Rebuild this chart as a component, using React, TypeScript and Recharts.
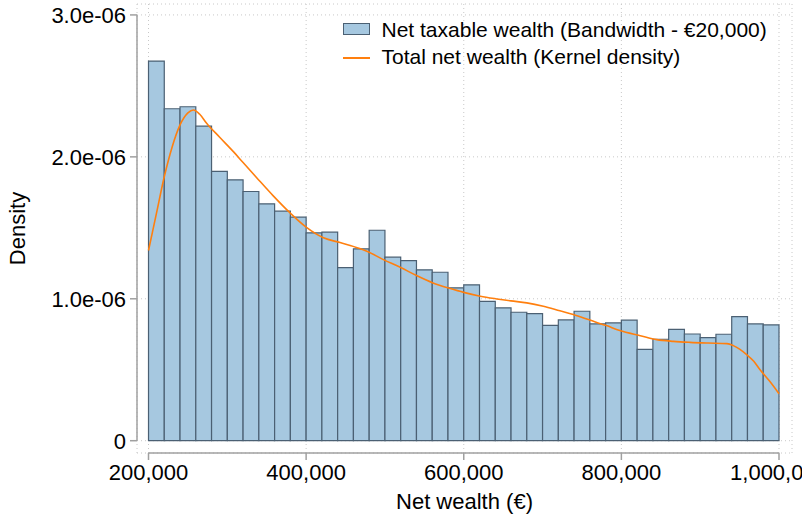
import React from 'react';
import {
  ComposedChart,
  Line,
  XAxis,
  YAxis,
  CartesianGrid,
  ReferenceArea,
  ReferenceLine,
} from 'recharts';

// Histogram of net taxable wealth, 20k bins from 200k to 1M (density in units of 1e-6)
const BIN_START = 200000;
const BIN_WIDTH = 20000;
const binDensity = [
  2.675, 2.339, 2.353, 2.216, 1.897, 1.838, 1.756, 1.669, 1.617, 1.575,
  1.465, 1.469, 1.22, 1.352, 1.483, 1.293, 1.269, 1.204, 1.187, 1.077,
  1.098, 0.982, 0.936, 0.905, 0.896, 0.813, 0.851, 0.912, 0.823, 0.83,
  0.849, 0.644, 0.715, 0.785, 0.752, 0.726, 0.75, 0.874, 0.823, 0.816,
];

// Kernel density of total net wealth (wealth in thousands, density in 1e-6)
const kdeWealth = [
  200, 210, 220, 230, 240, 250, 257, 265, 274, 290, 308, 320, 337, 358, 380,
  400, 422, 443, 468, 477, 498, 520, 540, 561, 582, 600, 621, 642, 660, 680,
  701, 722, 739, 760, 781, 798, 824, 845, 866, 887, 910, 934, 942, 950, 959,
  968, 976, 988, 1000,
];
const kdeDensity = [
  1.34, 1.6, 1.86, 2.07, 2.225, 2.31, 2.33, 2.3, 2.235, 2.14, 2.035, 1.96,
  1.855, 1.727, 1.603, 1.505, 1.43, 1.396, 1.354, 1.335, 1.276, 1.22, 1.164,
  1.112, 1.074, 1.045, 1.018, 0.999, 0.985, 0.971, 0.947, 0.915, 0.889, 0.85,
  0.811, 0.776, 0.74, 0.712, 0.7, 0.693, 0.688, 0.684, 0.67, 0.645, 0.606,
  0.56, 0.5, 0.42, 0.331,
];

const xTicks = [200000, 400000, 600000, 800000, 1000000];
const yTicks = [0, 1, 2, 3];

const bins = binDensity.map((d, i) => ({
  x0: BIN_START + i * BIN_WIDTH,
  x1: BIN_START + (i + 1) * BIN_WIDTH,
  d,
}));
const kde = kdeWealth.map((w, i) => ({ w: w * 1000, d: kdeDensity[i] }));

// plot region is padded around the data range, Stata style
const X_DOMAIN: [number, number] = [185400, 1016500];
const Y_DOMAIN: [number, number] = [-0.0866, 3.077];

const FONT = '"Liberation Sans", Arial, Helvetica, sans-serif';
const AXIS = '#a0a0a0';
const BAR_FILL = '#a6c8e0';
const BAR_EDGE = '#4b6073';
const KDE = '#ff7f0e';

const fmtX = (v: number) => v.toLocaleString('en-US');
const fmtY = (v: number) => (v === 0 ? '0' : `${v.toFixed(1)}e-06`);

export default function App() {
  return (
    <div
      style={{
        position: 'absolute',
        left: 0,
        top: 0,
        width: 802,
        height: 515,
        background: '#fff',
        fontFamily: FONT,
        overflow: 'hidden',
      }}
    >
      <ComposedChart
        width={802}
        height={515}
        data={kde}
        margin={{ top: 4, right: 10, bottom: 4, left: 0 }}
        style={{ fontFamily: FONT }}
      >
        <CartesianGrid stroke="#c8c8c8" strokeDasharray="1 3" />
        <XAxis
          dataKey="w"
          type="number"
          domain={X_DOMAIN}
          allowDataOverflow
          ticks={xTicks}
          interval={0}
          tickFormatter={fmtX}
          axisLine={false}
          tickLine={{ stroke: AXIS, strokeWidth: 1.5 }}
          tickSize={7}
          tickMargin={4}
          tick={{ fill: '#000', fontSize: 22 }}
          height={58}
          label={{
            value: 'Net wealth (€)',
            position: 'insideBottom',
            offset: 2,
            fill: '#000',
            fontSize: 22,
          }}
        />
        <YAxis
          type="number"
          domain={Y_DOMAIN}
          allowDataOverflow
          ticks={yTicks}
          interval={0}
          tickFormatter={fmtY}
          axisLine={false}
          tickLine={{ stroke: AXIS, strokeWidth: 1.5 }}
          tickSize={7}
          tickMargin={4}
          tick={{ fill: '#000', fontSize: 22 }}
          width={137}
          label={{
            value: 'Density',
            angle: -90,
            position: 'insideLeft',
            offset: 17,
            fill: '#000',
            fontSize: 22,
            style: { textAnchor: 'middle' },
          }}
        />
        {/* axis lines only span the tick range */}
        <ReferenceLine
          segment={[
            { x: X_DOMAIN[0], y: 0 },
            { x: X_DOMAIN[0], y: 3 },
          ]}
          stroke={AXIS}
          strokeWidth={1.5}
          ifOverflow="visible"
        />
        <ReferenceLine
          segment={[
            { x: 200000, y: Y_DOMAIN[0] },
            { x: 1000000, y: Y_DOMAIN[0] },
          ]}
          stroke={AXIS}
          strokeWidth={1.5}
          ifOverflow="visible"
        />
        {bins.map((b) => (
          <ReferenceArea
            key={b.x0}
            x1={b.x0}
            x2={b.x1}
            y1={0}
            y2={b.d}
            fill={BAR_FILL}
            fillOpacity={1}
            stroke={BAR_EDGE}
            strokeWidth={1.2}
            ifOverflow="visible"
          />
        ))}
        <Line
          dataKey="d"
          type="monotone"
          stroke={KDE}
          strokeWidth={1.6}
          dot={false}
          activeDot={false}
          isAnimationActive={false}
        />
      </ComposedChart>

      {/* legend */}
      <div
        style={{
          position: 'absolute',
          left: 343,
          top: 23,
          width: 27,
          height: 12,
          boxSizing: 'border-box',
          background: BAR_FILL,
          border: `1.2px solid ${BAR_EDGE}`,
        }}
      />
      <div
        style={{
          position: 'absolute',
          left: 343,
          top: 57,
          width: 27,
          height: 1.6,
          background: KDE,
        }}
      />
      <div
        style={{
          position: 'absolute',
          left: 381.5,
          top: 17,
          fontSize: 21,
          lineHeight: '26.5px',
          color: '#000',
          whiteSpace: 'nowrap',
        }}
      >
        <div>Net taxable wealth (Bandwidth - €20,000)</div>
        <div>Total net wealth (Kernel density)</div>
      </div>
    </div>
  );
}
